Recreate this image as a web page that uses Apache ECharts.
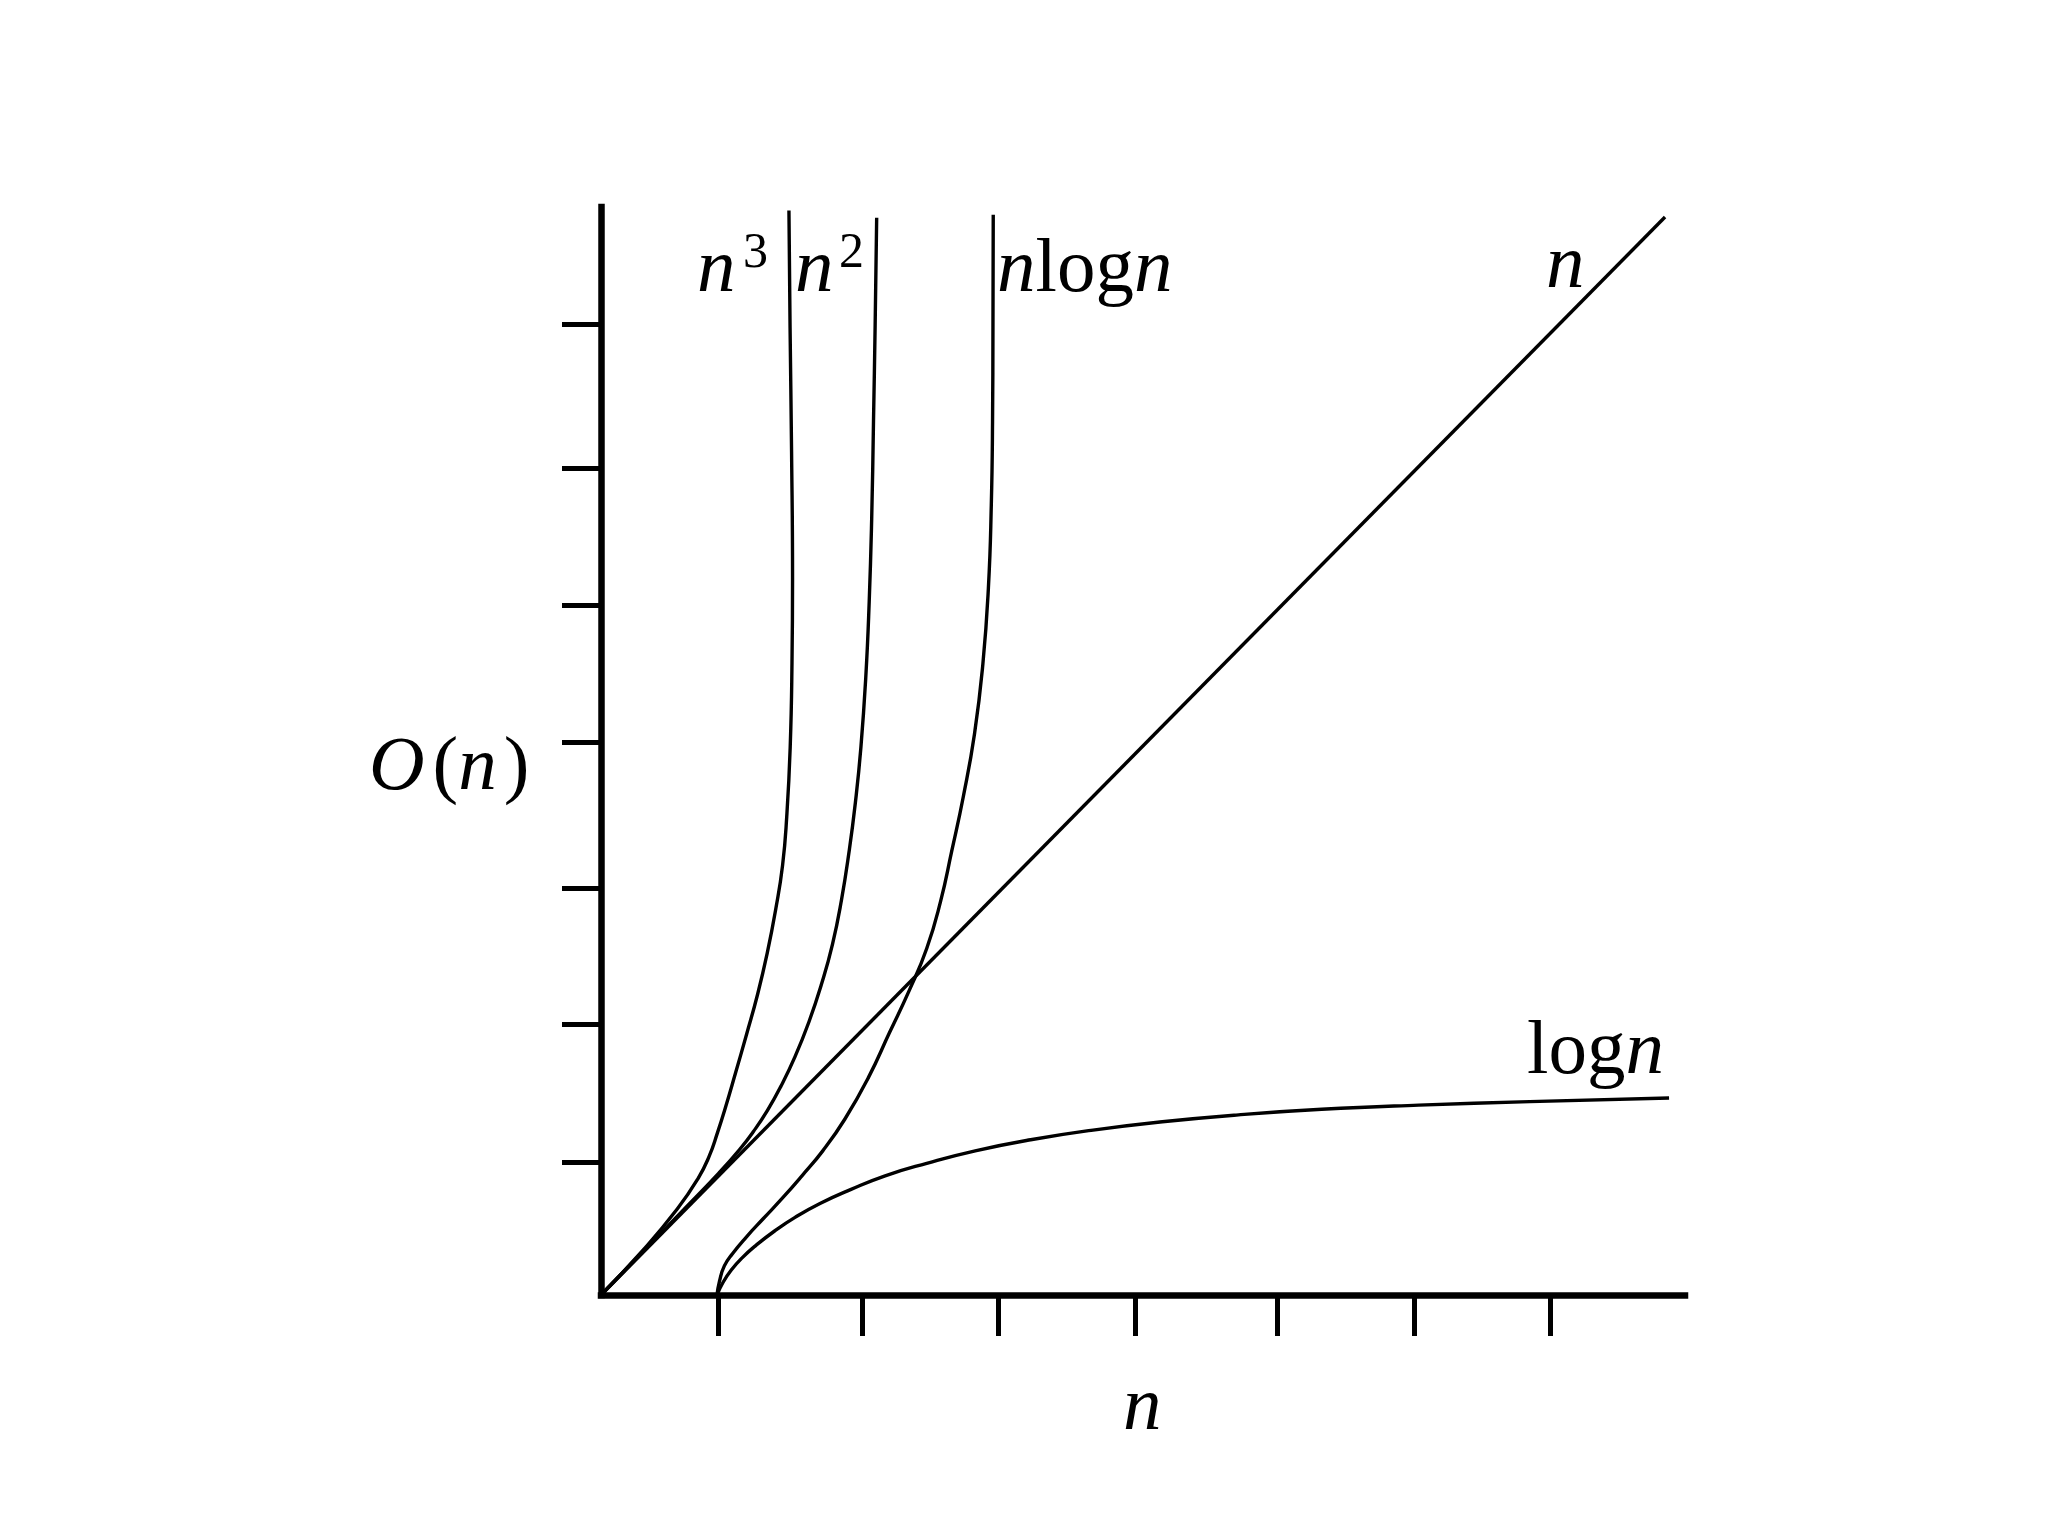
<!DOCTYPE html>
<html>
<head>
<meta charset="utf-8">
<script src="https://cdn.jsdelivr.net/npm/echarts@6/dist/echarts.min.js"></script>
<style>
html,body{margin:0;padding:0;background:#fff;}
#chart{width:2048px;height:1536px;}
</style>
</head>
<body>
<div id="chart"></div>
<script>
// Axis extents (schematic units)
const xMax = 7.821;
const yMax = 7.85;
// Tick positions
const xTicks = [0.844, 1.887, 2.869, 3.853, 4.881, 5.866, 6.847];
const yTicks = [0.960, 1.955, 2.937, 3.990, 4.975, 5.967, 7.006];

// Curves [n, O(n)]
const lineN = [[0, 0], [7.677, 7.778]];
const lineN3 = [[0,0],[0.30,0.32],[0.55,0.62],[0.70,0.84],[0.78,1.00],[0.84,1.17],[0.90,1.36],[0.97,1.60],[1.05,1.88],[1.13,2.17],[1.20,2.47],[1.26,2.78],[1.31,3.10],[1.34,3.45],[1.365,3.95],[1.378,4.56],[1.382,5.17],[1.375,6.08],[1.364,6.99],[1.356,7.825]];
const lineN2 = [[0,0],[0.30,0.31],[0.60,0.62],[0.85,0.88],[1.00,1.05],[1.10,1.18],[1.20,1.33],[1.30,1.51],[1.40,1.72],[1.50,1.97],[1.59,2.24],[1.67,2.53],[1.735,2.85],[1.79,3.20],[1.835,3.55],[1.875,3.95],[1.91,4.45],[1.935,5.00],[1.953,5.60],[1.966,6.30],[1.978,7.00],[1.989,7.773]];
const lineNlogN = [[0.837,0],[0.855,0.10],[0.89,0.21],[0.95,0.30],[1.05,0.42],[1.17,0.55],[1.31,0.70],[1.45,0.86],[1.60,1.04],[1.76,1.27],[1.93,1.57],[2.08,1.89],[2.225,2.20],[2.35,2.50],[2.45,2.84],[2.53,3.20],[2.615,3.60],[2.695,4.05],[2.755,4.55],[2.795,5.10],[2.816,5.70],[2.825,6.30],[2.828,7.00],[2.83,7.794]];
const lineLogN = [[0.837,0],[0.88,0.09],[0.94,0.18],[1.02,0.27],[1.12,0.36],[1.25,0.46],[1.40,0.56],[1.58,0.66],[1.80,0.76],[2.05,0.86],[2.35,0.95],[2.70,1.04],[3.10,1.12],[3.55,1.19],[4.05,1.25],[4.60,1.30],[5.20,1.34],[5.90,1.37],[6.70,1.395],[7.706,1.421]];

const FONT = 'Liberation Serif, Times New Roman, serif';
const FS = 77;
const SUP = 50;
const MID = 0.305; // em offset from middle to alphabetic baseline

function txt(x, baseline, text, size, rich) {
  return {
    type: 'text', x: x, y: baseline - MID * size, silent: true,
    style: {
      text: text, fill: '#000', font: size + 'px ' + FONT,
      fontFamily: FONT, fontSize: size,
      align: 'left', verticalAlign: 'middle',
      rich: rich
    }
  };
}
const richIt = {
  i: {fontStyle: 'italic', fontSize: FS, fontFamily: FONT, color: '#000'},
  r: {fontStyle: 'normal', fontSize: FS, fontFamily: FONT, color: '#000'},
  p: {fontStyle: 'normal', fontSize: FS, fontFamily: FONT, color: '#000', padding: [0, 0, 0, 8]},
  q: {fontStyle: 'normal', fontSize: FS, fontFamily: FONT, color: '#000', padding: [0, 0, 0, 7]}
};

function curve(name, data) {
  return {
    name: name, type: 'line', data: data, showSymbol: false, symbol: 'none',
    smooth: 0.5, lineStyle: {color: '#000', width: 3.4}, z: 3
  };
}

const chart = echarts.init(document.getElementById('chart'), null, {renderer: 'canvas'});
chart.setOption({
  animation: false,
  backgroundColor: '#fff',
  grid: {left: 601, right: 363, top: 207, bottom: 241, containLabel: false},
  xAxis: {
    type: 'value', min: 0, max: xMax,
    axisLine: {show: true, onZero: false, lineStyle: {color: '#000', width: 6.5, cap: 'square'}},
    axisTick: {show: true, inside: false, length: 41, customValues: xTicks, lineStyle: {color: '#000', width: 5}},
    axisLabel: {show: false},
    splitLine: {show: false}
  },
  yAxis: {
    type: 'value', min: 0, max: yMax,
    axisLine: {show: true, onZero: false, lineStyle: {color: '#000', width: 6.5, cap: 'square'}},
    axisTick: {show: true, inside: false, length: 39, customValues: yTicks, lineStyle: {color: '#000', width: 5}},
    axisLabel: {show: false},
    splitLine: {show: false}
  },
  series: [
    curve('n', lineN),
    curve('n3', lineN3),
    curve('n2', lineN2),
    curve('nlogn', lineNlogN),
    curve('logn', lineLogN)
  ],
  graphic: [
    txt(697, 294, '{i|n}', FS, richIt),
    txt(743, 269, '3', SUP),
    txt(795, 294, '{i|n}', FS, richIt),
    txt(839, 269, '2', SUP),
    txt(997, 294, '{i|n}{r|log}{i|n}', FS, richIt),
    txt(1546, 290, '{i|n}', FS, richIt),
    txt(1527, 1076, '{r|log}{i|n}', FS, richIt),
    txt(369, 792, '{i|O}{p|(}{i|n}{q|)}', FS, richIt),
    txt(1123, 1432, '{i|n}', FS, richIt)
  ]
});
</script>
</body>
</html>
